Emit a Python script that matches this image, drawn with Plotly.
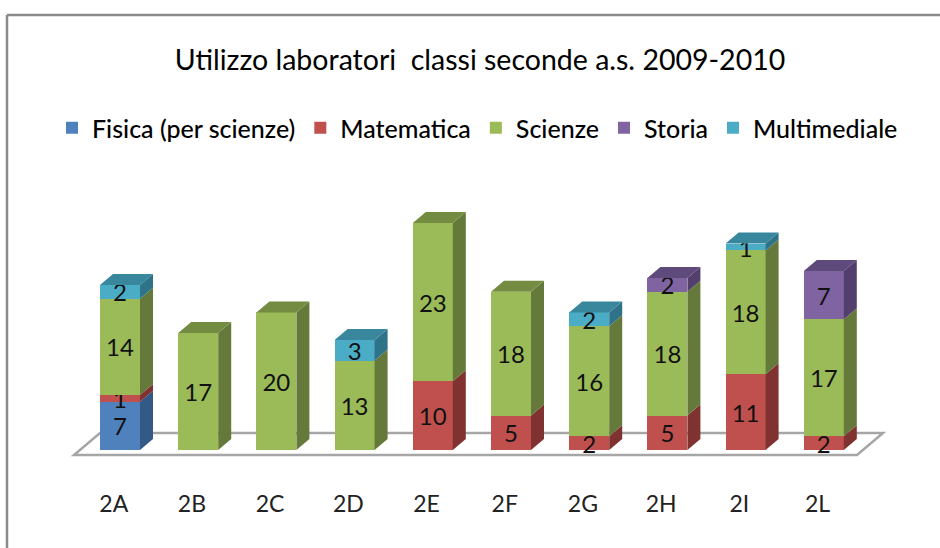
import plotly.graph_objects as go

categories = ["2A", "2B", "2C", "2D", "2E", "2F", "2G", "2H", "2I", "2L"]
fisica = [7, None, None, None, None, None, None, None, None, None]
matematica = [1, None, None, None, 10, 5, 2, 5, 11, 2]
scienze = [14, 17, 20, 13, 23, 18, 16, 18, 18, 17]
storia = [None, None, None, None, None, None, None, 2, None, 7]
multimediale = [2, None, None, 3, None, None, 2, None, 1, None]

series = [
    ("Fisica (per scienze)", fisica, "#4f81bd", "#335a86", "#3f6797"),
    ("Matematica", matematica, "#c0504d", "#7f3230", "#953d3b"),
    ("Scienze", scienze, "#9bbb59", "#657a3a", "#748c42"),
    ("Storia", storia, "#8064a2", "#533f6e", "#5f4a7c"),
    ("Multimediale", multimediale, "#4bacc6", "#2f7388", "#38879c"),
]

W, H = 940, 548
ML, MR, MT, MB = 20, 20, 100, 60
PX_X = 78.2      # pixels per category
PX_Y = 6.88      # pixels per value unit
C0 = 120         # pixel centre of first bar
BASE = 450       # pixel of value 0
BAR = 40 / PX_X  # bar width, category units
DX = 13 / PX_X   # depth offsets
DY = 11 / PX_Y
FONT = "Lato, 'Open Sans', sans-serif"

xrange = [(ML - C0) / PX_X, (W - MR - C0) / PX_X]
yrange = [(BASE - (H - MB)) / PX_Y, (BASE - MT) / PX_Y]
xs = list(range(len(categories)))

fig = go.Figure()
for name, vals, col, side, top in series:
    fig.add_trace(go.Bar(
        x=xs, y=[v if v else 0 for v in vals], name=name, width=BAR,
        marker=dict(color=col, line=dict(width=0)),
        text=[str(v) if v else "" for v in vals],
        textposition="inside", insidetextanchor="middle", textangle=0,
        insidetextfont=dict(family=FONT, size=24, color="#111111"),
        constraintext="none", cliponaxis=False, hoverinfo="skip",
    ))

# depth faces, derived from the stacked values
totals = [0] * len(xs)
last = [None] * len(xs)
for si, (name, vals, col, side, top) in enumerate(series):
    sx, sy = [], []
    for i, v in enumerate(vals):
        if not v:
            continue
        y0, y1 = totals[i], totals[i] + v
        xr = i + BAR / 2
        sx += [xr, xr + DX, xr + DX, xr, xr, None]
        sy += [y0, y0 + DY, y1 + DY, y1, y0, None]
        totals[i] = y1
        last[i] = si
    fig.add_trace(go.Scatter(x=sx, y=sy, mode="lines", fill="toself", fillcolor=side,
                             line=dict(width=0, color=side), showlegend=False, hoverinfo="skip"))
for si, (name, vals, col, side, top) in enumerate(series):
    tx, ty = [], []
    for i in xs:
        if last[i] != si:
            continue
        xl, xr, y = i - BAR / 2, i + BAR / 2, totals[i]
        tx += [xl, xr, xr + DX, xl + DX, xl, None]
        ty += [y, y, y + DY, y + DY, y, None]
    fig.add_trace(go.Scatter(x=tx, y=ty, mode="lines", fill="toself", fillcolor=top,
                             line=dict(width=0, color=top), showlegend=False, hoverinfo="skip"))

# floor
fl = -46 / PX_X
fr = (857 - C0) / PX_X
fb = -5 / PX_Y
bk = 17 / PX_Y
ox = 26 / PX_X
floor = f"M{fl},{fb} L{fr},{fb} L{fr + ox},{bk} L{fl + ox},{bk} Z"

def px(x):
    return (x - ML) / (W - ML - MR)

def py(y):
    return 1 - (y - MT) / (H - MT - MB)

fig.update_layout(
    width=W, height=H,
    margin=dict(l=ML, r=MR, t=MT, b=MB, pad=0),
    barmode="stack", paper_bgcolor="white", plot_bgcolor="white",
    font=dict(family=FONT, color="#111111"),
    title=dict(text="Utilizzo laboratori  classi seconde a.s. 2009-2010",
               x=480 / W, xanchor="center", y=1 - 60 / H, yanchor="middle",
               font=dict(family=FONT, size=28.5, color="#000000")),
    legend=dict(orientation="h", x=(52 - ML) / (W - ML - MR), xanchor="left",
                y=py(128), yanchor="middle",
                font=dict(family=FONT, size=25, color="#000000", weight=500),
                bgcolor="rgba(0,0,0,0)", traceorder="normal"),
    xaxis=dict(range=xrange, tickmode="array", tickvals=[i - 0.08 for i in xs], ticktext=categories,
               showgrid=False, zeroline=False, showline=False, ticks="",
               tickfont=dict(family=FONT, size=23, color="#222222")),
    yaxis=dict(range=yrange, visible=False, showgrid=False, zeroline=False),
    shapes=[
        dict(type="path", path=floor, xref="x", yref="y", layer="below",
             fillcolor="white", line=dict(color="#a6a6a6", width=2.5)),
        dict(type="line", xref="paper", yref="paper", x0=px(7), x1=px(7), y0=py(15), y1=py(548),
             line=dict(color="#8a8a8a", width=2.5)),
        dict(type="line", xref="paper", yref="paper", x0=px(7), x1=px(940), y0=py(15), y1=py(15),
             line=dict(color="#8a8a8a", width=2.5)),
    ],
)
fig.write_html("out.html", config={"displayModeBar": False},
               post_script="document.body.style.margin='0';document.body.style.overflow='hidden';")
